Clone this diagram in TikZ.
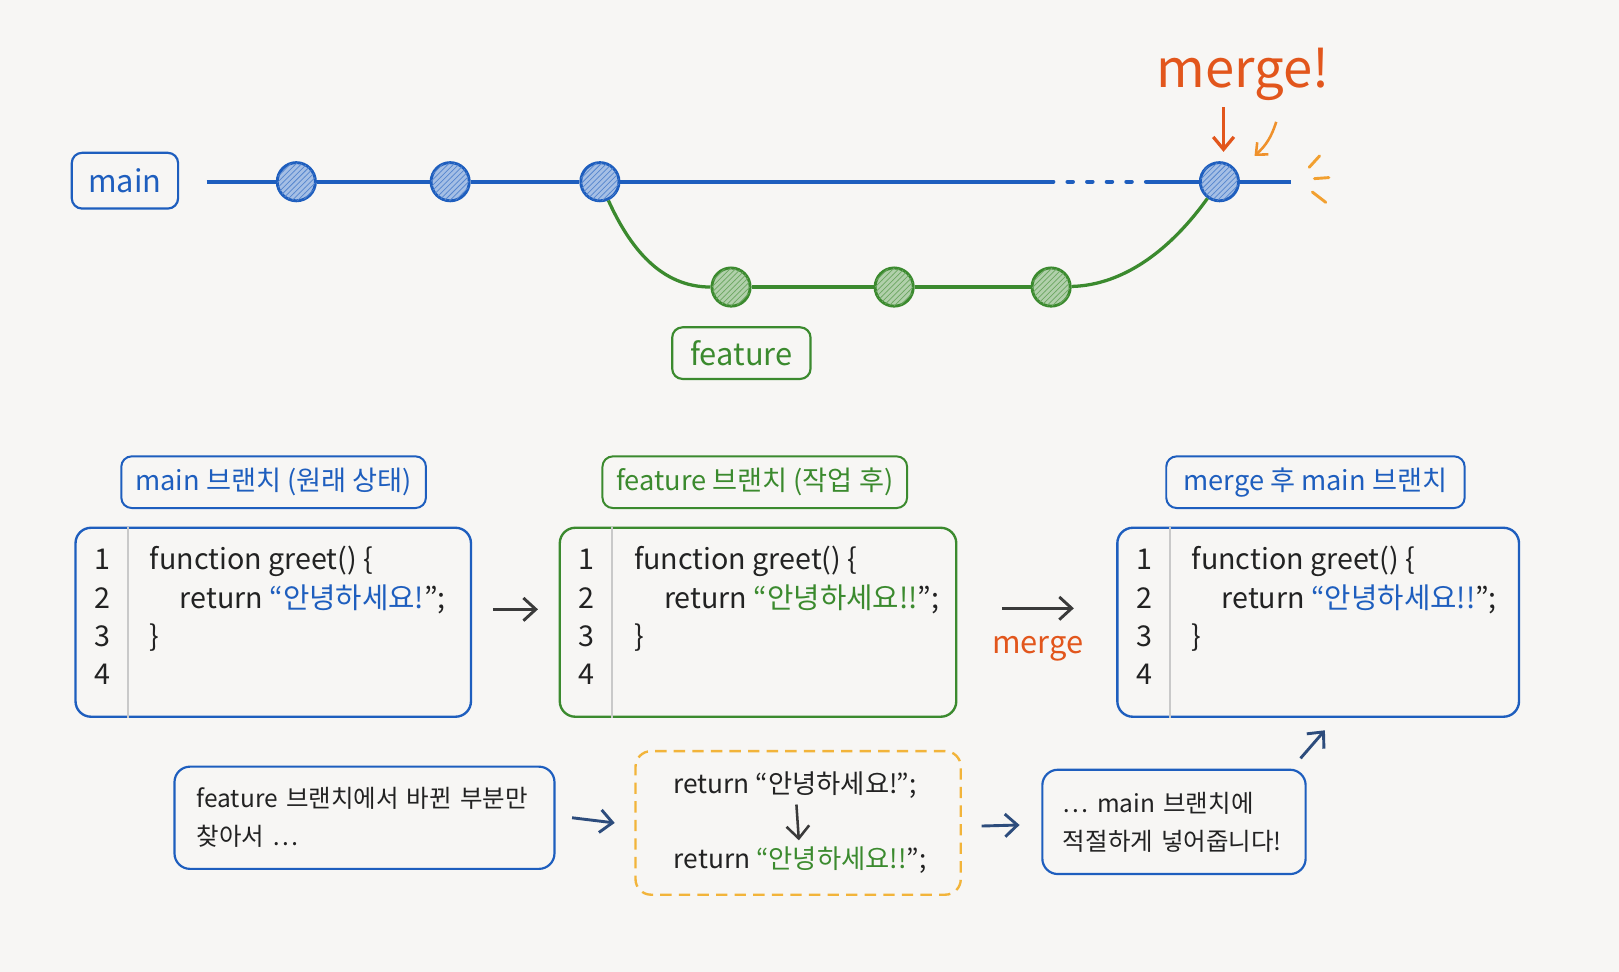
\documentclass[tikz,border=0pt]{standalone}
\usepackage{fontspec}
\setmainfont{Noto Sans CJK KR}
\usetikzlibrary{positioning,arrows.meta,patterns,calc}

\definecolor{paper}{HTML}{F7F6F4}
\definecolor{gitblue}{HTML}{1E5EBE}
\definecolor{gitgreen}{HTML}{3B8A2E}
\definecolor{mergered}{HTML}{E2561C}
\definecolor{sparkorange}{HTML}{F2A030}
\definecolor{dashyellow}{HTML}{F2B43A}
\definecolor{inkgray}{HTML}{3A3A3A}
\definecolor{inkblue}{HTML}{2D4C7C}
\definecolor{guttergray}{HTML}{C9C9C9}
\definecolor{codeink}{HTML}{222222}

\tikzset{
  commit/.style={circle, minimum size=7.4mm, inner sep=0pt, line width=1.6pt},
  maincommit/.style={commit, draw=gitblue, fill=gitblue!40,
    postaction={pattern=north east lines, pattern color=gitblue!75}},
  featcommit/.style={commit, draw=gitgreen, fill=gitgreen!40,
    postaction={pattern=north east lines, pattern color=gitgreen!75}},
  branchtag/.style={draw, rounded corners=2mm, line width=1.2pt, inner sep=0pt,
    font=\fontsize{17}{20}\selectfont},
  mainline/.style={gitblue, line width=2.4pt},
  featline/.style={gitgreen, line width=1.8pt},
  codebox/.style={draw, rounded corners=3mm, line width=1.3pt, anchor=north west,
    minimum height=36.6mm, inner sep=0pt},
  boxtitle/.style={draw, rounded corners=2mm, line width=1.1pt, inner sep=0pt,
    minimum width=59mm, minimum height=10mm, font=\fontsize{15}{18}\selectfont},
  codefont/.style={font=\fontsize{15.8}{19}\selectfont, text=codeink},
  notebox/.style={draw, rounded corners=3mm, line width=1.2pt, align=left,
    font=\fontsize{13.5}{21}\selectfont, text=codeink},
  inkarrow/.style={-{Straight Barb[length=2.4mm,width=4.4mm]}, line width=1.6pt},
}

\begin{document}
\begin{tikzpicture}[x=0.2mm, y=-0.2mm]
    \newcommand{\codepanel}[6]{%
      \node[codebox, draw=#4, minimum width=#3] (#1) at (#2,510) {};
      \draw[guttergray, line width=1pt] ([xshift=10.4mm]#1.north west) -- ([xshift=10.4mm]#1.south west);
      \foreach \n/\dy in {1/8.4, 2/15.8, 3/23.2, 4/30.6}
        \node[codefont, anchor=base] at ([xshift=5.4mm, yshift=-\dy mm]#1.north west) {\n};
      \node[codefont, anchor=base west] at ([xshift=13.4mm, yshift=-8.4mm]#1.north west) {function greet() \{};
      \node[codefont, anchor=base west] at ([xshift=19.2mm, yshift=-15.8mm]#1.north west) {return \textcolor{#5}{“#6}”;};
      \node[codefont, anchor=base west] at ([xshift=13.4mm, yshift=-23.2mm]#1.north west) {\}};
    }
    \useasboundingbox (0,0) rectangle (1568,941);
    \fill[paper] (0,0) rectangle (1568,941);

    % git history
    \node[branchtag, draw=gitblue, text=gitblue, minimum width=20.6mm, minimum height=10.8mm] (maintag) at (121,175) {main};
    \node[maincommit] (m1) at (287,176) {};
    \node[maincommit] (m2) at (436,176) {};
    \node[maincommit] (m3) at (581,176) {};
    \node[maincommit] (mm) at (1181,176) {};
    \node[featcommit] (f1) at (708,278) {};
    \node[featcommit] (f2) at (866,278) {};
    \node[featcommit] (f3) at (1018,278) {};
    \coordinate (mstart) at (200,176);
    \coordinate (dotA) at (1015,176);
    \coordinate (dotB) at (1115,176);
    \coordinate (mend) at (1250,176);
    \draw[mainline] (mstart) -- (m1);
    \draw[mainline] (m1) -- (m2);
    \draw[mainline] (m2) -- (m3);
    \draw[mainline] (m3) -- (dotA);
    \draw[mainline, dash pattern=on 1mm off 2.8mm, line cap=round] (dotA) -- (dotB);
    \draw[mainline] (dotB) -- (mm);
    \draw[mainline] (mm) -- (mend);
    \draw[featline] (m3) .. controls (610,240) and (640,278) .. (f1);
    \draw[featline] (f1) -- (f2);
    \draw[featline] (f2) -- (f3);
    \draw[featline] (f3) .. controls (1090,276) and (1135,240) .. (mm);
    \node[branchtag, draw=gitgreen, text=gitgreen, minimum width=26.8mm, minimum height=10mm] (feattag) at (718,342) {feature};

    \node[font=\fontsize{29}{32}\selectfont, text=mergered] (mergebang) at (1204,72) {merge!};
    \coordinate (redtop) at (1185,104);
    \draw[mergered, line width=1.8pt, -{Straight Barb[length=2.4mm,width=4mm]}] (redtop) -- (redtop |- mm.north) [shorten >=1.8mm];
    \coordinate (orgtop) at (1236,118);
    \coordinate (orgtip) at (1215,151);
    \draw[sparkorange!80!mergered, line width=1.4pt, -{Straight Barb[length=1.8mm,width=3.2mm]}] (orgtop) to[bend left=15] (orgtip);
    \draw[sparkorange, line width=1.6pt, line cap=round] (1268,162) -- (1278,151);
    \draw[sparkorange, line width=1.6pt, line cap=round] (1273,173) -- (1287,172);
    \draw[sparkorange, line width=1.6pt, line cap=round] (1271,186) -- (1284,196);

    % code panels
    \node[boxtitle, draw=gitblue, text=gitblue] (title1) at (265,467) {main 브랜치 (원래 상태)};
    \node[boxtitle, draw=gitgreen, text=gitgreen] (title2) at (731,467) {feature 브랜치 (작업 후)};
    \node[boxtitle, draw=gitblue, text=gitblue, minimum width=57.8mm] (title3) at (1274,467) {merge 후 main 브랜치};
    \codepanel{code1}{72}{76.6mm}{gitblue}{gitblue}{안녕하세요!}
    \codepanel{code2}{541}{76.8mm}{gitgreen}{gitgreen}{안녕하세요!!}
    \codepanel{code3}{1081}{77.8mm}{gitblue}{gitblue}{안녕하세요!!}
    \draw[inkarrow, inkgray] ([xshift=4mm,yshift=2.5mm]code1.east) -- ([xshift=-4mm,yshift=2.5mm]code2.west);
    \draw[inkarrow, inkgray] ([xshift=8.6mm,yshift=2.7mm]code2.east) -- ([xshift=-8.2mm,yshift=2.7mm]code3.west);
    \node[font=\fontsize{17}{20}\selectfont, text=mergered] (mergelbl) at (1005,628) {merge};

    % how merge works
    \node[notebox, draw=gitblue, minimum width=73.6mm, minimum height=19.8mm, text width=65mm, inner xsep=4.3mm] (findbox) at (353,792) {feature 브랜치에서 바뀐 부분만\\찾아서 …};
    \node[draw=dashyellow, dashed, dash pattern=on 2.2mm off 1.4mm, rounded corners=3mm, line width=1.3pt, minimum width=63mm, minimum height=27.8mm] (changebox) at (773,797) {};
    \node[codefont, font=\fontsize{14.5}{17}\selectfont] (oldline) at (770,760) {return “안녕하세요!”;};
    \node[codefont, font=\fontsize{14.5}{17}\selectfont] (newline) at (775,833) {return \textcolor{gitgreen}{“안녕하세요!!}”;};
    \draw[inkarrow, inkgray, line width=1.4pt] (oldline) -- (newline);
    \node[notebox, draw=gitblue, minimum width=50.6mm, minimum height=20.2mm, text width=43mm, inner xsep=4mm] (insertbox) at (1137,796) {… main 브랜치에\\적절하게 넣어줍니다!};
    \draw[inkarrow, inkblue] ([xshift=3.2mm]findbox.east) -- ([xshift=-3.8mm]changebox.west);
    \draw[inkarrow, inkblue] ([xshift=3.8mm,yshift=-0.6mm]changebox.east) -- ([xshift=-4.2mm,yshift=-0.6mm]insertbox.west);
    \draw[inkarrow, inkblue] ([xshift=-1.2mm,yshift=2mm]insertbox.north east) -- ([xshift=1.3mm,yshift=-2.4mm]code3.south);
\end{tikzpicture}
\end{document}
